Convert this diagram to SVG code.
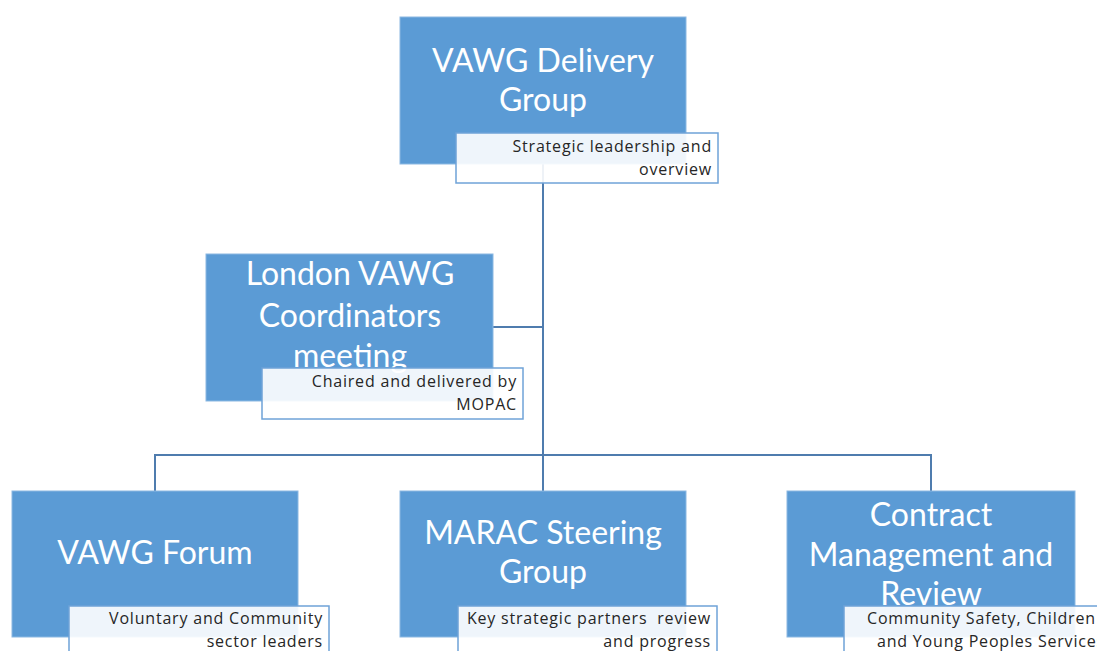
<svg xmlns="http://www.w3.org/2000/svg" width="1097" height="651" viewBox="0 0 1097 651">
  <style>
    .box { fill: #5b9bd5; stroke: #8bb8e2; stroke-width: 1; }
    .sub { fill: #ffffff; fill-opacity: 0.9; stroke: #6fa3d8; stroke-width: 1.5; }
    .title { font-family: Lato, "Liberation Sans", sans-serif; font-size: 32px; fill: #ffffff; text-anchor: middle; }
    .note { font-family: "Open Sans", "Liberation Sans", sans-serif; font-size: 16px; fill: #262626; text-anchor: end; letter-spacing: 0.8px; }
    .start { text-anchor: start; }
    .conn { fill: none; stroke: #4f7cae; stroke-width: 2; }
  </style>
  <rect width="1097" height="651" fill="#ffffff"/>
  <g id="connectors">
    <path class="conn" d="M543,164 V455"/>
    <path class="conn" d="M493,327 H543"/>
    <path class="conn" d="M155,491 V455 H931 V491"/>
    <path class="conn" d="M543,455 V491"/>
  </g>
  <g id="vawg-delivery-group">
    <rect class="box" x="400" y="17" width="286" height="147"/>
    <text class="title" x="543" y="72">VAWG Delivery</text>
    <text class="title" x="543" y="111">Group</text>
    <rect class="sub" x="456" y="133" width="262" height="50"/>
    <text class="note" x="712" y="152">Strategic leadership and</text>
    <text class="note" x="712" y="175">overview</text>
  </g>
  <g id="london-coordinators">
    <rect class="box" x="206" y="254" width="287" height="147"/>
    <text class="title" x="350" y="285">London VAWG</text>
    <text class="title" x="350" y="327">Coordinators</text>
    <text class="title" x="350" y="367">meeting</text>
    <rect class="sub" x="262" y="368" width="261" height="51"/>
    <text class="note" x="517" y="387">Chaired and delivered by</text>
    <text class="note" x="517" y="410">MOPAC</text>
  </g>
  <g id="vawg-forum">
    <rect class="box" x="12" y="491" width="286" height="146"/>
    <text class="title" x="155" y="564">VAWG Forum</text>
    <rect class="sub" x="69" y="606" width="260" height="60"/>
    <text class="note" x="323" y="624">Voluntary and Community</text>
    <text class="note" x="323" y="647">sector leaders</text>
  </g>
  <g id="marac-steering-group">
    <rect class="box" x="400" y="491" width="286" height="146"/>
    <text class="title" x="543" y="544">MARAC Steering</text>
    <text class="title" x="543" y="583">Group</text>
    <rect class="sub" x="458" y="606" width="259" height="60"/>
    <text class="note" x="711" y="624" xml:space="preserve">Key strategic partners  review</text>
    <text class="note" x="711" y="647">and progress</text>
  </g>
  <g id="contract-management">
    <rect class="box" x="787" y="491" width="288" height="146"/>
    <text class="title" x="931" y="526">Contract</text>
    <text class="title" x="931" y="566">Management and</text>
    <text class="title" x="931" y="605">Review</text>
    <rect class="sub" x="844" y="606" width="262" height="60"/>
    <text class="note start" x="867" y="624">Community Safety, Children</text>
    <text class="note start" x="877" y="647">and Young Peoples Services</text>
  </g>
</svg>
